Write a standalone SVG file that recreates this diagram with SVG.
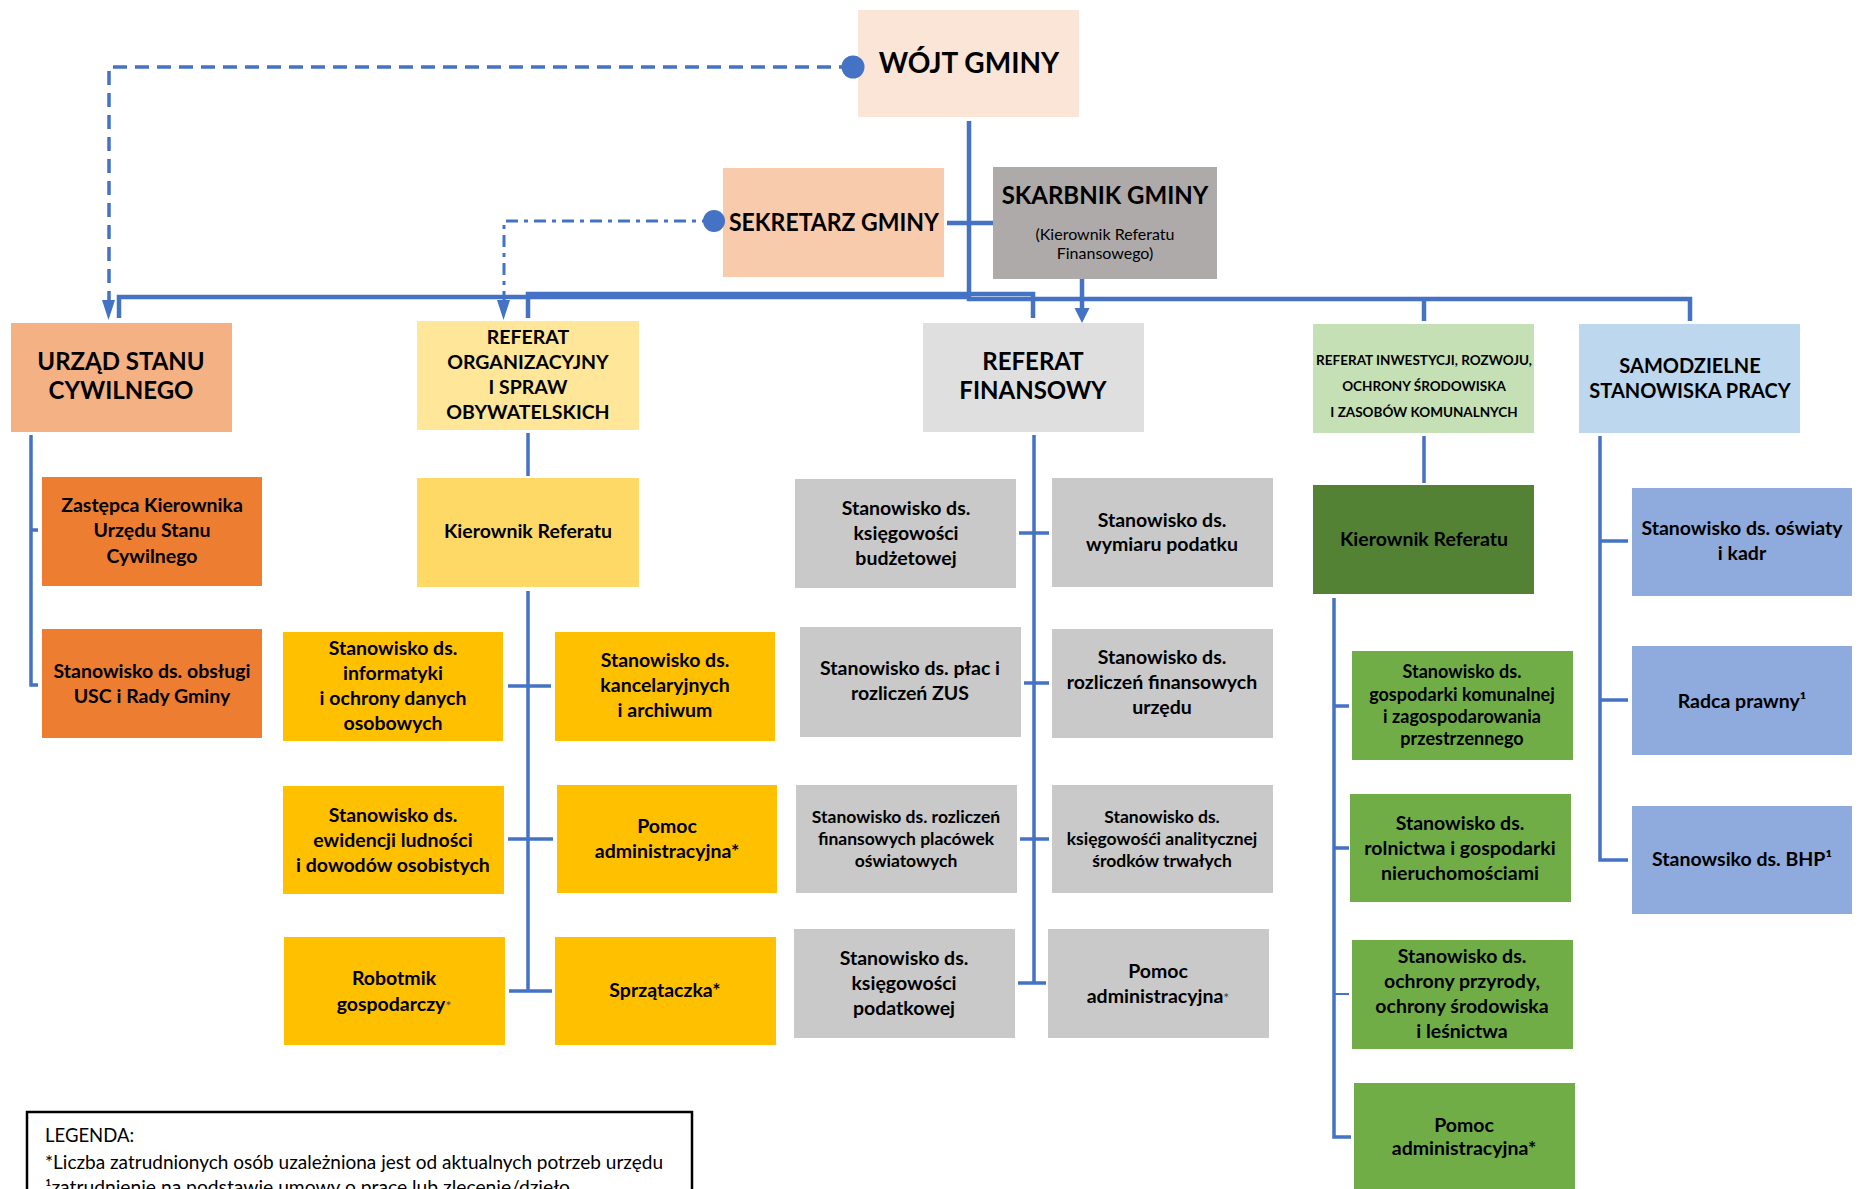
<svg xmlns="http://www.w3.org/2000/svg" width="1869" height="1189" viewBox="0 0 1869 1189">
<defs>
<style>
.t{font-family:Lato,"Liberation Sans",sans-serif;font-weight:bold;fill:#000;text-anchor:middle}
.n{font-weight:normal}
.s{font-size:19.5px}
.c{fill:none;stroke:#4472C4;stroke-width:3.5}
.b{fill:none;stroke:#4472C4;stroke-width:4.5}
.ast{font-weight:normal;font-size:14px;fill:#444}
.lg{font-family:Lato,"Liberation Sans",sans-serif;font-size:18.5px;fill:#000}
</style>
</defs>
<rect width="1869" height="1189" fill="#fff"/>

<g id="wojt"><rect x="858" y="10" width="221" height="107" fill="#FBE5D6"/><text class="t" x="969" y="73" font-size="28">WÓJT GMINY</text></g>
<g id="sekretarz"><rect x="723" y="168" width="221" height="109" fill="#F8CBAD"/><text class="t" x="834" y="231" font-size="24" textLength="210" lengthAdjust="spacingAndGlyphs">SEKRETARZ GMINY</text></g>
<g id="skarbnik"><rect x="993" y="167" width="224" height="112" fill="#AEAAAA"/><text class="t" x="1105" y="204" font-size="24">SKARBNIK GMINY</text><text class="t n" x="1105" y="240" font-size="16">(Kierownik Referatu</text><text class="t n" x="1105" y="259" font-size="16">Finansowego)</text></g>

<g id="usc"><rect x="11" y="323" width="221" height="109" fill="#F4B183"/><text class="t" x="121" font-size="24"><tspan x="121" y="370">URZĄD STANU</tspan><tspan x="121" y="399">CYWILNEGO</tspan></text></g>
<g id="ref-org"><rect x="417" y="321" width="222" height="109" fill="#FFE699"/><text class="t" font-size="19.5"><tspan x="528" y="344">REFERAT</tspan><tspan x="528" y="369">ORGANIZACYJNY</tspan><tspan x="528" y="394">I SPRAW</tspan><tspan x="528" y="419">OBYWATELSKICH</tspan></text></g>
<g id="ref-fin"><rect x="923" y="323" width="221" height="109" fill="#DFDFDF"/><text class="t" font-size="24"><tspan x="1033" y="370">REFERAT</tspan><tspan x="1033" y="399">FINANSOWY</tspan></text></g>
<g id="ref-inw"><rect x="1313" y="324" width="221" height="109" fill="#C5E0B4"/><text class="t" font-size="13.5"><tspan x="1424" y="365">REFERAT INWESTYCJI, ROZWOJU,</tspan><tspan x="1424" y="391">OCHRONY ŚRODOWISKA</tspan><tspan x="1424" y="417">I ZASOBÓW KOMUNALNYCH</tspan></text></g>
<g id="samodzielne"><rect x="1579" y="324" width="221" height="109" fill="#BDD7EE"/><text class="t" font-size="20"><tspan x="1690" y="373">SAMODZIELNE</tspan><tspan x="1690" y="398">STANOWISKA PRACY</tspan></text></g>

<g id="usc-zastepca"><rect x="42" y="477" width="220" height="109" fill="#ED7D31"/><text class="t s"><tspan x="152" y="512">Zastępca Kierownika</tspan><tspan x="152" y="537">Urzędu Stanu</tspan><tspan x="152" y="563">Cywilnego</tspan></text></g>
<g id="usc-obsluga"><rect x="42" y="629" width="220" height="109" fill="#ED7D31"/><text class="t s"><tspan x="152" y="678">Stanowisko ds. obsługi</tspan><tspan x="152" y="703">USC i Rady Gminy</tspan></text></g>

<g id="org-kierownik"><rect x="417" y="478" width="222" height="109" fill="#FFD966"/><text class="t s" x="528" y="538">Kierownik Referatu</text></g>
<g id="org-informatyka"><rect x="283" y="632" width="220" height="109" fill="#FFC000"/><text class="t s"><tspan x="393" y="655">Stanowisko ds.</tspan><tspan x="393" y="680">informatyki</tspan><tspan x="393" y="705">i ochrony danych</tspan><tspan x="393" y="730">osobowych</tspan></text></g>
<g id="org-kancelaria"><rect x="555" y="632" width="220" height="109" fill="#FFC000"/><text class="t s"><tspan x="665" y="667">Stanowisko ds.</tspan><tspan x="665" y="692">kancelaryjnych</tspan><tspan x="665" y="717">i archiwum</tspan></text></g>
<g id="org-ewidencja"><rect x="283" y="786" width="221" height="108" fill="#FFC000"/><text class="t s"><tspan x="393" y="822">Stanowisko ds.</tspan><tspan x="393" y="847">ewidencji ludności</tspan><tspan x="393" y="872">i dowodów osobistych</tspan></text></g>
<g id="org-pomoc"><rect x="557" y="785" width="220" height="108" fill="#FFC000"/><text class="t s"><tspan x="667" y="833">Pomoc</tspan><tspan x="667" y="858">administracyjna*</tspan></text></g>
<g id="org-robotnik"><rect x="284" y="937" width="221" height="108" fill="#FFC000"/><text class="t s"><tspan x="394" y="985">Robotmik</tspan><tspan x="394" y="1011">gospodarczy<tspan class="ast">*</tspan></tspan></text></g>
<g id="org-sprzataczka"><rect x="555" y="937" width="221" height="108" fill="#FFC000"/><text class="t s" x="665" y="997">Sprzątaczka*</text></g>

<g id="fin-budzet"><rect x="795" y="479" width="221" height="109" fill="#C9C9C9"/><text class="t s"><tspan x="906" y="515">Stanowisko ds.</tspan><tspan x="906" y="540">księgowości</tspan><tspan x="906" y="565">budżetowej</tspan></text></g>
<g id="fin-podatek"><rect x="1052" y="478" width="221" height="109" fill="#C9C9C9"/><text class="t s"><tspan x="1162" y="527">Stanowisko ds.</tspan><tspan x="1162" y="551">wymiaru podatku</tspan></text></g>
<g id="fin-place"><rect x="800" y="627" width="221" height="110" fill="#C9C9C9"/><text class="t s"><tspan x="910" y="675">Stanowisko ds. płac i</tspan><tspan x="910" y="700">rozliczeń ZUS</tspan></text></g>
<g id="fin-urzad"><rect x="1052" y="629" width="221" height="109" fill="#C9C9C9"/><text class="t s"><tspan x="1162" y="664">Stanowisko ds.</tspan><tspan x="1162" y="689">rozliczeń finansowych</tspan><tspan x="1162" y="714">urzędu</tspan></text></g>
<g id="fin-placowki"><rect x="796" y="785" width="221" height="108" fill="#C9C9C9"/><text class="t" font-size="17.5"><tspan x="906" y="823">Stanowisko ds. rozliczeń</tspan><tspan x="906" y="845">finansowych placówek</tspan><tspan x="906" y="867">oświatowych</tspan></text></g>
<g id="fin-analityka"><rect x="1052" y="785" width="221" height="108" fill="#C9C9C9"/><text class="t" font-size="17.5"><tspan x="1162" y="823">Stanowisko ds.</tspan><tspan x="1162" y="845">księgowośći analitycznej</tspan><tspan x="1162" y="867">środków trwałych</tspan></text></g>
<g id="fin-podatkowa"><rect x="794" y="929" width="221" height="109" fill="#C9C9C9"/><text class="t s"><tspan x="904" y="965">Stanowisko ds.</tspan><tspan x="904" y="990">księgowości</tspan><tspan x="904" y="1015">podatkowej</tspan></text></g>
<g id="fin-pomoc"><rect x="1048" y="929" width="221" height="109" fill="#C9C9C9"/><text class="t s"><tspan x="1158" y="978">Pomoc</tspan><tspan x="1158" y="1003">administracyjna<tspan class="ast">*</tspan></tspan></text></g>

<g id="inw-kierownik"><rect x="1313" y="485" width="221" height="109" fill="#548235"/><text class="t s" x="1424" y="546">Kierownik Referatu</text></g>
<g id="inw-komunalna"><rect x="1352" y="651" width="221" height="109" fill="#70AD47"/><text class="t" font-size="18"><tspan x="1462" y="678">Stanowisko ds.</tspan><tspan x="1462" y="701">gospodarki komunalnej</tspan><tspan x="1462" y="723">i zagospodarowania</tspan><tspan x="1462" y="745">przestrzennego</tspan></text></g>
<g id="inw-rolnictwo"><rect x="1350" y="794" width="221" height="108" fill="#70AD47"/><text class="t s"><tspan x="1460" y="830">Stanowisko ds.</tspan><tspan x="1460" y="855">rolnictwa i gospodarki</tspan><tspan x="1460" y="880">nieruchomościami</tspan></text></g>
<g id="inw-przyroda"><rect x="1352" y="940" width="221" height="109" fill="#70AD47"/><text class="t s"><tspan x="1462" y="963">Stanowisko ds.</tspan><tspan x="1462" y="988">ochrony przyrody,</tspan><tspan x="1462" y="1013">ochrony środowiska</tspan><tspan x="1462" y="1038">i leśnictwa</tspan></text></g>
<g id="inw-pomoc"><rect x="1354" y="1083" width="221" height="109" fill="#70AD47"/><text class="t s"><tspan x="1464" y="1132">Pomoc</tspan><tspan x="1464" y="1155">administracyjna*</tspan></text></g>

<g id="sam-oswiata"><rect x="1632" y="488" width="220" height="108" fill="#8FAADC"/><text class="t s"><tspan x="1742" y="535">Stanowisko ds. oświaty</tspan><tspan x="1742" y="560">i kadr</tspan></text></g>
<g id="sam-radca"><rect x="1632" y="646" width="220" height="109" fill="#8FAADC"/><text class="t s" x="1742" y="708">Radca prawny¹</text></g>
<g id="sam-bhp"><rect x="1632" y="806" width="220" height="108" fill="#8FAADC"/><text class="t s" x="1742" y="866">Stanowsiko ds. BHP¹</text></g>

<g id="legenda"><rect x="27" y="1112" width="665" height="100" fill="#fff" stroke="#000" stroke-width="2.5"/>
<text class="lg" x="45" y="1142">LEGENDA:</text>
<text class="lg" x="45" y="1169" textLength="618" lengthAdjust="spacingAndGlyphs">*Liczba zatrudnionych osób uzależniona jest od aktualnych potrzeb urzędu</text>
<text class="lg" x="45" y="1194" textLength="525" lengthAdjust="spacingAndGlyphs">¹zatrudnienie na podstawie umowy o pracę lub zlecenie/dzieło</text></g>

<g id="connectors">
<path class="b" d="M969 121 V299 H1690 V321"/>
<path class="b" d="M119 318 V297 H969"/>
<path class="b" d="M528 318 V294 H1033 V318"/>
<path class="b" d="M1424 299 V321"/>
<path class="b" d="M947 223 H993"/>
<path class="b" d="M1082 279 V310"/>
<polygon points="1074.5,308 1089.5,308 1082,323" fill="#4472C4"/>
<path d="M853 67 H109 V302" fill="none" stroke="#4472C4" stroke-width="3.5" stroke-dasharray="14 8"/>
<polygon points="102,300 115,300 108.5,320" fill="#4472C4"/>
<path d="M714 221 H504 V302" fill="none" stroke="#4472C4" stroke-width="3" stroke-dasharray="12 6 4 6"/>
<polygon points="497,300 510,300 503.5,320" fill="#4472C4"/>
<circle cx="853" cy="67" r="11.5" fill="#4472C4"/>
<circle cx="714" cy="221" r="11" fill="#4472C4"/>
<path class="c" d="M31 435 V685 H38 M31 530 H38"/>
<path class="c" d="M528 433 V476 M528 591 V991 M508 686 H551 M508 839 H553 M509 991 H552"/>
<path class="c" d="M1034 435 V983 M1018 983 H1046 M1019 533 H1049 M1024 683 H1049 M1020 839 H1049"/>
<path class="c" d="M1424 436 V483 M1334 598 V1137 H1351 M1334 706 H1349 M1334 848 H1349"/>
<path fill="none" stroke="#4472C4" stroke-width="2" d="M1334 994 H1349"/>
<path class="c" d="M1600 436 V860 H1628 M1600 541 H1628 M1600 700 H1628"/>
</g>
</svg>
